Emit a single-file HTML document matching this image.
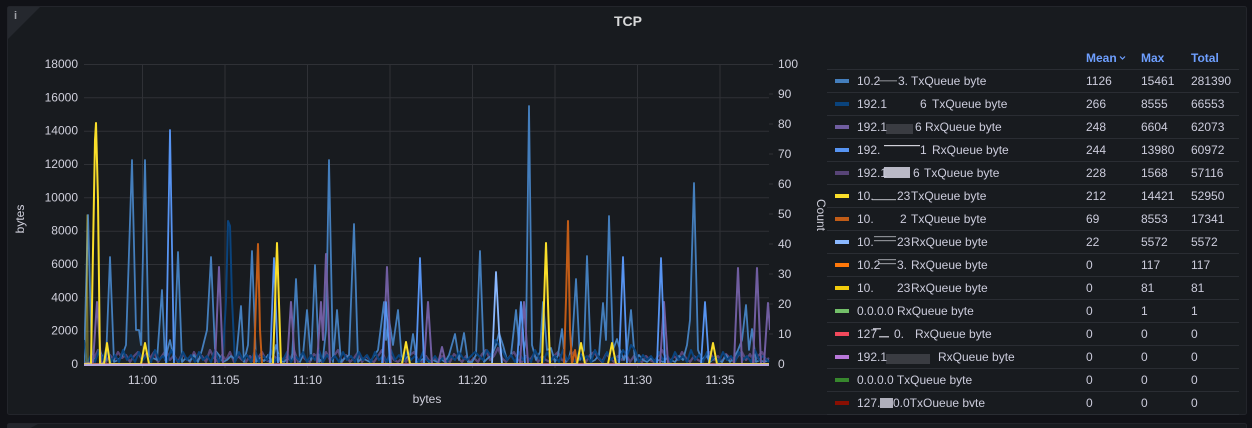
<!DOCTYPE html>
<html>
<head>
<meta charset="utf-8">
<style>
html,body{margin:0;padding:0;background:#111217;width:1252px;height:428px;overflow:hidden;}
svg{display:block;}
text{font-family:"Liberation Sans",sans-serif;}
</style>
</head>
<body>
<svg width="1252" height="428" viewBox="0 0 1252 428" xmlns="http://www.w3.org/2000/svg">
<defs>
<clipPath id="plot"><rect x="84" y="40" width="686" height="326"/></clipPath>
<clipPath id="leg"><rect x="827" y="40" width="420" height="367"/></clipPath>
</defs>
<!-- panels -->
<rect x="7.5" y="6.5" width="1239" height="408" rx="2" fill="#181b1f" stroke="#23252b"/>
<rect x="7.5" y="423.5" width="1239" height="20" rx="2" fill="#181b1f" stroke="#23252b"/>
<polygon points="8,424 38,424 8,440" fill="#23262c"/>
<polygon points="8,7 40,7 8,39" fill="#25282e"/>
<text x="15.5" y="19" font-family="Liberation Serif,serif" font-weight="bold" font-size="11" fill="#9fa2a8" text-anchor="middle">i</text>
<text x="628" y="21" font-size="14" font-weight="bold" fill="#d8d9da" text-anchor="middle" dominant-baseline="central">TCP</text>

<!-- grid -->
<g stroke="#2f3136" stroke-width="1">
<line x1="84" y1="64.5" x2="773" y2="64.5"/>
<line x1="84" y1="97.8" x2="769" y2="97.8"/>
<line x1="84" y1="131.2" x2="769" y2="131.2"/>
<line x1="84" y1="164.5" x2="769" y2="164.5"/>
<line x1="84" y1="197.8" x2="769" y2="197.8"/>
<line x1="84" y1="231.2" x2="769" y2="231.2"/>
<line x1="84" y1="264.5" x2="769" y2="264.5"/>
<line x1="84" y1="297.8" x2="769" y2="297.8"/>
<line x1="84" y1="331.2" x2="769" y2="331.2"/>
<line x1="142.5" y1="64" x2="142.5" y2="368"/>
<line x1="225" y1="64" x2="225" y2="368"/>
<line x1="307.5" y1="64" x2="307.5" y2="368"/>
<line x1="390" y1="64" x2="390" y2="368"/>
<line x1="472.5" y1="64" x2="472.5" y2="368"/>
<line x1="555" y1="64" x2="555" y2="368"/>
<line x1="637.5" y1="64" x2="637.5" y2="368"/>
<line x1="720" y1="64" x2="720" y2="368"/>
<line x1="769" y1="94" x2="773" y2="94"/>
<line x1="769" y1="124" x2="773" y2="124"/>
<line x1="769" y1="154" x2="773" y2="154"/>
<line x1="769" y1="184" x2="773" y2="184"/>
<line x1="769" y1="214" x2="773" y2="214"/>
<line x1="769" y1="244" x2="773" y2="244"/>
<line x1="769" y1="274" x2="773" y2="274"/>
<line x1="769" y1="304" x2="773" y2="304"/>
<line x1="769" y1="334" x2="773" y2="334"/>
</g>

<!-- axis labels -->
<g font-size="12" fill="#d0d0dc" dominant-baseline="central">
<g text-anchor="end">
<text x="78" y="64">18000</text>
<text x="78" y="97.3">16000</text>
<text x="78" y="130.7">14000</text>
<text x="78" y="164">12000</text>
<text x="78" y="197.3">10000</text>
<text x="78" y="230.7">8000</text>
<text x="78" y="264">6000</text>
<text x="78" y="297.3">4000</text>
<text x="78" y="330.7">2000</text>
<text x="78" y="364">0</text>
</g>
<g text-anchor="start">
<text x="778" y="64">100</text>
<text x="778" y="94">90</text>
<text x="778" y="124">80</text>
<text x="778" y="154">70</text>
<text x="778" y="184">60</text>
<text x="778" y="214">50</text>
<text x="778" y="244">40</text>
<text x="778" y="274">30</text>
<text x="778" y="304">20</text>
<text x="778" y="334">10</text>
<text x="778" y="364">0</text>
</g>
<g text-anchor="middle">
<text x="142.5" y="380">11:00</text>
<text x="225" y="380">11:05</text>
<text x="307.5" y="380">11:10</text>
<text x="390" y="380">11:15</text>
<text x="472.5" y="380">11:20</text>
<text x="555" y="380">11:25</text>
<text x="637.5" y="380">11:30</text>
<text x="720" y="380">11:35</text>
<text x="427" y="399">bytes</text>
<text transform="translate(20,219) rotate(-90)">bytes</text>
<text transform="translate(821,215) rotate(90)">Count</text>
</g>
</g>

<!-- series -->
<g clip-path="url(#plot)" fill="none" stroke-linejoin="round" stroke-width="1.8">
<!-- dark purple wavy -->
<polyline stroke="#584477" stroke-width="2.2" points="84,362 89,364 94,358 98,350 102,356 106,362 110,355 114,360 118,352 122,358 126,355 130,362 134,356 138,352 142,360 146,354 150,358 154,352 158,362 162,356 166,350 170,360 174,355 178,362 182,354 186,358 190,362 194,352 198,360 202,356 206,362 210,350 214,358 218,362 222,355 226,360 230,352 234,362 238,356 242,360 246,362 250,356 254,362 258,358 262,352 266,360 270,362 274,356 278,360 282,362 286,356 290,360 294,350 298,362 302,356 306,360 310,362 314,354 318,358 322,362 326,352 330,360 334,356 338,350 342,362 346,355 350,362 354,358 358,352 362,362 366,356 370,360 374,362 378,356 382,350 386,362 390,355 394,360 398,362 402,358 406,362 410,355 414,352 418,360 422,362 426,356 430,362 434,358 438,362 442,356 446,360 450,362 454,354 458,358 462,362 466,356 470,362 474,358 478,362 482,354 486,350 490,360 494,356 498,348 502,358 506,362 510,356 514,352 518,360 522,362 526,356 530,360 534,354 538,362 542,356 546,360 550,362 554,356 558,352 562,360 566,362 570,356 574,352 578,360 582,356 586,362 590,355 594,352 598,358 602,362 606,354 610,358 614,362 618,356 622,360 626,354 630,362 634,356 638,360 642,362 646,356 650,360 654,362 658,356 662,350 666,358 670,362 674,356 678,360 682,352 686,358 690,362 694,356 698,360 702,362 706,356 710,352 714,360 718,356 722,362 726,354 730,358 734,362 738,356 742,352 746,360 750,354 754,362 758,356 762,352 766,360 769,358"/>
<!-- medium blue fill + line -->
<polygon stroke="none" fill="#447EBC" fill-opacity="0.07" points="84,364 88,215 92,362 96,358 100,350 104,362 106,360 110,257 114,362 118,360 122,356 126,345 132,160 136,330 139,330 141,345 145,160 149,362 153,358 157,360 162,290 165,360 170,340 174,360 178,252 182,362 186,358 190,361 194,355 198,362 202,350 207,330 211,257 215,350 219,355 223,362 227,360 231,356 236,360 241,306 244,362 248,345 252,251 256,362 260,358 264,361 268,355 272,362 276,345 280,360 284,362 288,358 292,360 296,279 300,362 303,355 307,310 311,360 315,265 319,362 323,358 326,330 329,160 333,362 337,310 341,362 345,358 349,355 354,224 358,362 362,358 366,360 370,362 374,356 378,350 384,302 386,340 389,319 393,345 398,310 402,362 406,358 410,355 413,334 417,362 421,360 425,358 429,362 433,360 437,362 441,359 445,362 449,355 455,334 459,360 464,333 468,362 472,362 476,355 480,251 484,362 488,358 492,355 496,345 499,333 503,345 507,360 511,355 516,310 519,345 521,302 524,350 526,340 529,106 532,345 536,360 540,352 543,302 547,350 551,348 555,362 558,355 562,329 565,362 569,358 572,345 576,279 580,360 584,350 587,256 591,362 595,360 599,355 603,303 606,340 609,216 613,350 617,339 620,350 624,360 627,350 631,310 635,362 639,355 643,360 647,362 651,358 655,362 659,360 663,362 667,358 671,360 675,362 679,356 683,360 687,345 690,320 694,183 698,350 702,360 706,355 710,362 714,358 718,360 722,362 726,355 730,362 734,358 738,350 742,340 746,305 749,350 752,329 756,362 760,360 764,362 769,360 769,364"/>
<polyline stroke="#447EBC" points="84,364 88,215 92,362 96,358 100,350 104,362 106,360 110,257 114,362 118,360 122,356 126,345 132,160 136,330 139,330 141,345 145,160 149,362 153,358 157,360 162,290 165,360 170,340 174,360 178,252 182,362 186,358 190,361 194,355 198,362 202,350 207,330 211,257 215,350 219,355 223,362 227,360 231,356 236,360 241,306 244,362 248,345 252,251 256,362 260,358 264,361 268,355 272,362 276,345 280,360 284,362 288,358 292,360 296,279 300,362 303,355 307,310 311,360 315,265 319,362 323,358 326,330 329,160 333,362 337,310 341,362 345,358 349,355 354,224 358,362 362,358 366,360 370,362 374,356 378,350 384,302 386,340 389,319 393,345 398,310 402,362 406,358 410,355 413,334 417,362 421,360 425,358 429,362 433,360 437,362 441,359 445,362 449,355 455,334 459,360 464,333 468,362 472,362 476,355 480,251 484,362 488,358 492,355 496,345 499,333 503,345 507,360 511,355 516,310 519,345 521,302 524,350 526,340 529,106 532,345 536,360 540,352 543,302 547,350 551,348 555,362 558,355 562,329 565,362 569,358 572,345 576,279 580,360 584,350 587,256 591,362 595,360 599,355 603,303 606,340 609,216 613,350 617,339 620,350 624,360 627,350 631,310 635,362 639,355 643,360 647,362 651,358 655,362 659,360 663,362 667,358 671,360 675,362 679,356 683,360 687,345 690,320 694,183 698,350 702,360 706,355 710,362 714,358 718,360 722,362 726,355 730,362 734,358 738,350 742,340 746,305 749,350 752,329 756,362 760,360 764,362 769,360"/>
<!-- navy -->
<polyline stroke="#0A437C" stroke-width="2" points="84,340 87,364 91,355 95,362 99,350 103,360 107,345 111,362 115,355 119,362 123,350 127,360 131,355 135,362 139,352 143,360 147,355 151,362 155,350 159,360 163,356 167,362 171,350 175,358 179,362 183,352 187,360 191,355 195,362 199,352 203,360 207,356 211,362 215,350 219,362 223,355 226,300 228,221 230,226 232,300 235,362 239,352 243,360 247,355 251,362 255,350 259,362 263,356 267,360 271,350 275,362 279,355 283,360 287,352 291,362 295,356 299,360 303,352 307,362 311,355 315,360 319,350 323,362 327,355 331,360 335,356 339,362 343,352 347,360 351,356 355,362 359,352 363,360 367,355 371,362 375,352 379,360 383,356 387,362 391,350 395,360 399,355 403,362 407,352 411,360 415,356 419,362 423,352 427,360 431,362 435,356 439,362 443,358 447,362 451,356 455,360 459,352 463,358 467,360 471,356 475,352 479,356 483,360 487,350 491,356 495,340 499,345 503,352 507,360 511,355 515,362 519,352 523,360 527,356 531,362 535,350 539,358 543,362 547,352 551,360 555,356 559,362 563,350 567,360 571,355 575,362 579,352 583,360 587,356 591,362 595,350 599,358 603,362 607,352 611,360 615,356 619,362 623,350 627,356 631,345 635,350 639,362 643,355 647,360 651,356 655,362 659,352 663,360 667,355 671,362 675,352 679,360 683,356 687,362 691,350 695,360 699,355 703,362 707,352 711,360 715,356 719,362 723,352 727,360 731,356 735,362 739,352 743,360 747,356 751,362 755,350 759,360 763,356 769,362"/>
<!-- purple -->
<polyline stroke="#705DA0" stroke-width="2" points="84,364 93,362 97,302 101,362 105,364 215,364 219,267 223,364 287,364 291,302 295,364 317,364 321,302 323,340 326,254 330,364 383,364 387,267 391,364 424,364 428,302 432,364 438,364 442,347 446,364 520,364 524,302 528,364 660,364 664,302 668,364 734,364 738,268 742,364 753,364 757,268 761,364 764,364 768,303 770,330"/>
<!-- bright blue -->
<polyline stroke="#5794F2" points="84,364 166,364 170,130 174,364 270,364 274,258 278,364 382,364 386,302 390,364 416,364 420,258 424,364 517,364 521,302 525,364 619,364 623,257 627,364 657,364 661,258 665,364 701,364 705,302 709,364 769,364"/>
<!-- light blue -->
<polyline stroke="#8AB8FF" points="84,364 492,364 496,272 499,330 502,364 769,364"/>
<!-- orange -->
<polyline stroke="#C15C17" stroke-width="2" points="84,364 254,364 256,300 258,244 260,330 262,364 564,364 566,300 568,221 570,330 572,364 575,350 577,364 769,364"/>
<!-- yellow -->
<polyline stroke="#FADE2A" stroke-width="1.2" stroke-opacity="0.45" points="86,364 87,215 88,364"/>
<polyline stroke="#FADE2A" stroke-width="2" points="84,364 91,364 93,250 95,140 96,123 98,200 100,364 104,364 107,343 110,364 141,364 145,343 149,364 273,364 277,243 281,364 402,364 406,342 410,364 542,364 546,243 550,364 577,364 581,343 585,364 608,364 612,343 616,364 709,364 713,343 717,364 769,364"/>
<!-- baseline -->
<line x1="84" y1="364.8" x2="769" y2="364.8" stroke="#B8A9DE" stroke-width="2.4"/>
</g>

<!-- legend -->
<g font-size="12" font-weight="bold" fill="#6e9fff" dominant-baseline="central">
<text x="1086" y="58">Mean</text>
<text x="1141" y="58">Max</text>
<text x="1191" y="58">Total</text>
</g>
<polyline points="1120,56.5 1122.5,59 1125,56.5" fill="none" stroke="#6e9fff" stroke-width="1.2"/>
<g stroke="#2a2d33" stroke-width="1">
<line x1="827" y1="69.5" x2="1239" y2="69.5"/>
<line x1="827" y1="92.5" x2="1239" y2="92.5"/>
<line x1="827" y1="115.5" x2="1239" y2="115.5"/>
<line x1="827" y1="138.5" x2="1239" y2="138.5"/>
<line x1="827" y1="161.5" x2="1239" y2="161.5"/>
<line x1="827" y1="184.5" x2="1239" y2="184.5"/>
<line x1="827" y1="207.5" x2="1239" y2="207.5"/>
<line x1="827" y1="230.5" x2="1239" y2="230.5"/>
<line x1="827" y1="253.5" x2="1239" y2="253.5"/>
<line x1="827" y1="276.5" x2="1239" y2="276.5"/>
<line x1="827" y1="299.5" x2="1239" y2="299.5"/>
<line x1="827" y1="322.5" x2="1239" y2="322.5"/>
<line x1="827" y1="345.5" x2="1239" y2="345.5"/>
<line x1="827" y1="368.5" x2="1239" y2="368.5"/>
<line x1="827" y1="391.5" x2="1239" y2="391.5"/>
<line x1="827" y1="414.5" x2="1239" y2="414.5"/>
</g>
<g>
<rect x="835" y="79" width="14" height="4" fill="#447EBC"/>
<rect x="835" y="102" width="14" height="4" fill="#0A437C"/>
<rect x="835" y="125" width="14" height="4" fill="#705DA0"/>
<rect x="835" y="148" width="14" height="4" fill="#5794F2"/>
<rect x="835" y="171" width="14" height="4" fill="#584477"/>
<rect x="835" y="194" width="14" height="4" fill="#FADE2A"/>
<rect x="835" y="217" width="14" height="4" fill="#C15C17"/>
<rect x="835" y="240" width="14" height="4" fill="#8AB8FF"/>
<rect x="835" y="263" width="14" height="4" fill="#FF780A"/>
<rect x="835" y="286" width="14" height="4" fill="#F2CC0C"/>
<rect x="835" y="309" width="14" height="4" fill="#73BF69"/>
<rect x="835" y="332" width="14" height="4" fill="#F2495C"/>
<rect x="835" y="355" width="14" height="4" fill="#B877D9"/>
<rect x="835" y="378" width="14" height="4" fill="#37872D"/>
<rect x="835" y="401" width="14" height="4" fill="#890F02"/>
</g>
<!-- redaction marks -->
<g>
<rect x="879" y="80" width="18" height="1.5" fill="#6a6c72"/>
<rect x="886" y="124" width="27" height="10" fill="#3a3c42"/>
<rect x="884" y="145" width="36" height="1.2" fill="#d0d0d8"/>
<rect x="884" y="167" width="26" height="11" fill="#b9b9c6"/>
<rect x="872" y="199" width="24" height="1.2" fill="#a0a2a8"/>
<rect x="874" y="236" width="22" height="1.2" fill="#8a8c92"/>
<rect x="874" y="240" width="22" height="1.2" fill="#8a8c92"/>
<rect x="878" y="259" width="18" height="1.2" fill="#8a8c92"/>
<rect x="878" y="263" width="18" height="1.2" fill="#8a8c92"/>
<rect x="873" y="328" width="8" height="1.5" fill="#b0b0ba"/>
<rect x="879" y="336" width="10" height="1.5" fill="#b0b0ba"/>
<rect x="886" y="354" width="44" height="10" fill="#3a3c42"/>
<rect x="880" y="398" width="13" height="10" fill="#b0b0bc"/>
</g>
<g clip-path="url(#leg)" font-size="12" fill="#ccccdc" dominant-baseline="central">
<text x="857" y="80.8">10.2</text><text x="898" y="80.8">3.</text><text x="911" y="80.8">TxQueue byte</text>
<text x="857" y="103.8">192.1</text><text x="920" y="103.8">6</text><text x="932" y="103.8">TxQueue byte</text>
<text x="857" y="126.8">192.1</text><text x="915" y="126.8">6</text><text x="925" y="126.8">RxQueue byte</text>
<text x="857" y="149.8">192.</text><text x="920" y="149.8">1</text><text x="932" y="149.8">RxQueue byte</text>
<text x="857" y="172.8">192.1</text><text x="913" y="172.8">6</text><text x="924" y="172.8">TxQueue byte</text>
<text x="857" y="195.8">10.</text><text x="897" y="195.8">23</text><text x="911" y="195.8">TxQueue byte</text>
<text x="857" y="218.8">10.</text><text x="900" y="218.8">2</text><text x="911" y="218.8">TxQueue byte</text>
<text x="857" y="241.8">10.</text><text x="897" y="241.8">23</text><text x="911" y="241.8">RxQueue byte</text>
<text x="857" y="264.8">10.2</text><text x="897" y="264.8">3.</text><text x="911" y="264.8">RxQueue byte</text>
<text x="857" y="287.8">10.</text><text x="897" y="287.8">23</text><text x="911" y="287.8">RxQueue byte</text>
<text x="857" y="310.8">0.0.0.0 RxQueue byte</text>
<text x="857" y="333.8">127</text><text x="894" y="333.8">0.</text><text x="915" y="333.8">RxQueue byte</text>
<text x="857" y="356.8">192.1</text><text x="938" y="356.8">RxQueue byte</text>
<text x="857" y="379.8">0.0.0.0 TxQueue byte</text>
<text x="857" y="402.8">127.</text><text x="893" y="402.8">0.0TxQueue byte</text>
<g>
<text x="1086" y="80.8">1126</text><text x="1141" y="80.8">15461</text><text x="1191" y="80.8">281390</text>
<text x="1086" y="103.8">266</text><text x="1141" y="103.8">8555</text><text x="1191" y="103.8">66553</text>
<text x="1086" y="126.8">248</text><text x="1141" y="126.8">6604</text><text x="1191" y="126.8">62073</text>
<text x="1086" y="149.8">244</text><text x="1141" y="149.8">13980</text><text x="1191" y="149.8">60972</text>
<text x="1086" y="172.8">228</text><text x="1141" y="172.8">1568</text><text x="1191" y="172.8">57116</text>
<text x="1086" y="195.8">212</text><text x="1141" y="195.8">14421</text><text x="1191" y="195.8">52950</text>
<text x="1086" y="218.8">69</text><text x="1141" y="218.8">8553</text><text x="1191" y="218.8">17341</text>
<text x="1086" y="241.8">22</text><text x="1141" y="241.8">5572</text><text x="1191" y="241.8">5572</text>
<text x="1086" y="264.8">0</text><text x="1141" y="264.8">117</text><text x="1191" y="264.8">117</text>
<text x="1086" y="287.8">0</text><text x="1141" y="287.8">81</text><text x="1191" y="287.8">81</text>
<text x="1086" y="310.8">0</text><text x="1141" y="310.8">1</text><text x="1191" y="310.8">1</text>
<text x="1086" y="333.8">0</text><text x="1141" y="333.8">0</text><text x="1191" y="333.8">0</text>
<text x="1086" y="356.8">0</text><text x="1141" y="356.8">0</text><text x="1191" y="356.8">0</text>
<text x="1086" y="379.8">0</text><text x="1141" y="379.8">0</text><text x="1191" y="379.8">0</text>
<text x="1086" y="402.8">0</text><text x="1141" y="402.8">0</text><text x="1191" y="402.8">0</text>
</g>
</g>
</svg>
</body>
</html>
